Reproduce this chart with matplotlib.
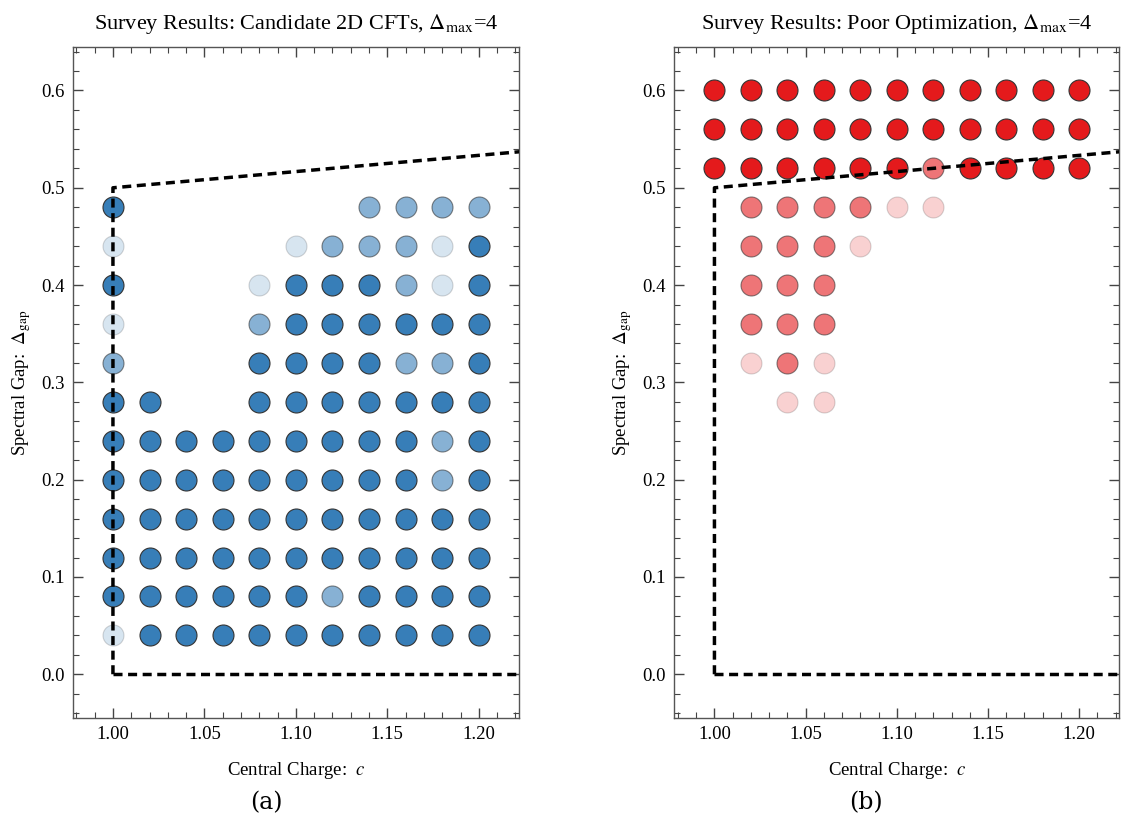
import numpy as np
import matplotlib
matplotlib.use('Agg')
import matplotlib.pyplot as plt
from matplotlib.ticker import MultipleLocator

plt.rcParams['font.family'] = ['Liberation Serif', 'DejaVu Serif']
plt.rcParams['mathtext.fontset'] = 'stix'

# rejilla de puntos: carga central y gap
c_vals = [1.00, 1.02, 1.04, 1.06, 1.08, 1.10, 1.12, 1.14, 1.16, 1.18, 1.20]

# niveles: 0 = sin punto, 1 = claro, 2 = medio, 3 = lleno
cft_gaps = [0.48, 0.44, 0.40, 0.36, 0.32, 0.28, 0.24, 0.20, 0.16, 0.12, 0.08, 0.04]
cft_levels = [
    [3, 0, 0, 0, 0, 0, 0, 2, 2, 2, 2],
    [1, 0, 0, 0, 0, 1, 2, 2, 2, 1, 3],
    [3, 0, 0, 0, 1, 3, 3, 3, 2, 1, 3],
    [1, 0, 0, 0, 2, 3, 3, 3, 3, 3, 3],
    [2, 0, 0, 0, 3, 3, 3, 3, 2, 2, 3],
    [3, 3, 0, 0, 3, 3, 3, 3, 3, 3, 3],
    [3, 3, 3, 3, 3, 3, 3, 3, 3, 2, 3],
    [3, 3, 3, 3, 3, 3, 3, 3, 3, 2, 3],
    [3, 3, 3, 3, 3, 3, 3, 3, 3, 3, 3],
    [3, 3, 3, 3, 3, 3, 3, 3, 3, 3, 3],
    [3, 3, 3, 3, 3, 3, 2, 3, 3, 3, 3],
    [1, 3, 3, 3, 3, 3, 3, 3, 3, 3, 3],
]

poor_gaps = [0.60, 0.56, 0.52, 0.48, 0.44, 0.40, 0.36, 0.32, 0.28]
poor_levels = [
    [3, 3, 3, 3, 3, 3, 3, 3, 3, 3, 3],
    [3, 3, 3, 3, 3, 3, 3, 3, 3, 3, 3],
    [3, 3, 3, 3, 3, 3, 2, 3, 3, 3, 3],
    [0, 2, 2, 2, 2, 1, 1, 0, 0, 0, 0],
    [0, 2, 2, 2, 1, 0, 0, 0, 0, 0, 0],
    [0, 2, 2, 2, 0, 0, 0, 0, 0, 0, 0],
    [0, 2, 2, 2, 0, 0, 0, 0, 0, 0, 0],
    [0, 1, 2, 1, 0, 0, 0, 0, 0, 0, 0],
    [0, 0, 1, 1, 0, 0, 0, 0, 0, 0, 0],
]

# frontera: gap <= (c+2)/6 para c >= 1
bound_c = [1.0, 1.0, 1.25]
bound_gap = [0.0, 0.5, (1.25 + 2) / 6]
floor_c = [1.0, 1.25]
floor_gap = [0.0, 0.0]

alphas = {1: 0.2, 2: 0.6, 3: 1.0}


def draw_panel(ax, gaps, levels, color, title):
    for gap, row in zip(gaps, levels):
        for c, lev in zip(c_vals, row):
            if lev == 0:
                continue
            ax.scatter([c], [gap], s=228, color=color, edgecolors='#333333',
                       linewidths=0.8, alpha=alphas[lev], zorder=2)
    ax.plot(bound_c, bound_gap, color='black', lw=2.5, dashes=(2.6, 1.6), zorder=3)
    ax.plot(floor_c, floor_gap, color='black', lw=2.5, dashes=(2.6, 1.6), zorder=3)

    ax.set_xlim(0.978, 1.222)
    ax.set_ylim(-0.045, 0.645)
    ax.xaxis.set_major_locator(MultipleLocator(0.05))
    ax.xaxis.set_minor_locator(MultipleLocator(0.01))
    ax.yaxis.set_major_locator(MultipleLocator(0.1))
    ax.yaxis.set_minor_locator(MultipleLocator(0.02))
    ax.xaxis.set_major_formatter(matplotlib.ticker.FormatStrFormatter('%.2f'))
    ax.yaxis.set_major_formatter(matplotlib.ticker.FormatStrFormatter('%.1f'))
    ax.tick_params(which='both', direction='in', top=True, right=True,
                   color='#444444', labelsize=13.5, pad=6)
    ax.tick_params(which='major', length=7, width=1)
    ax.tick_params(which='minor', length=4, width=0.8)
    for sp in ax.spines.values():
        sp.set_color('#555555')
        sp.set_linewidth(1.0)
    ax.set_title(title, fontsize=16, pad=13)
    ax.set_xlabel('Central Charge:  $c$', fontsize=13.5, labelpad=12)
    ax.set_ylabel(r'Spectral Gap:  $\Delta_{\rm gap}$', fontsize=13.5, labelpad=6)


fig = plt.figure(figsize=(11.22, 8.18), dpi=100)
ax1 = fig.add_axes([0.0648, 0.1222, 0.3978, 0.8207])
ax2 = fig.add_axes([0.6010, 0.1222, 0.3966, 0.8207])

draw_panel(ax1, cft_gaps, cft_levels, '#377eb8',
           r'Survey Results: Candidate 2D CFTs, $\Delta_{\rm max}$=4')
draw_panel(ax2, poor_gaps, poor_levels, '#e41a1c',
           r'Survey Results: Poor Optimization, $\Delta_{\rm max}$=4')

fig.text(266 / 1122, 1 - 803 / 818, '(a)', ha='center', va='center',
         fontsize=17, family=['DejaVu Serif'])
fig.text(866 / 1122, 1 - 803 / 818, '(b)', ha='center', va='center',
         fontsize=17, family=['DejaVu Serif'])

fig.savefig('out.png', dpi=100)
